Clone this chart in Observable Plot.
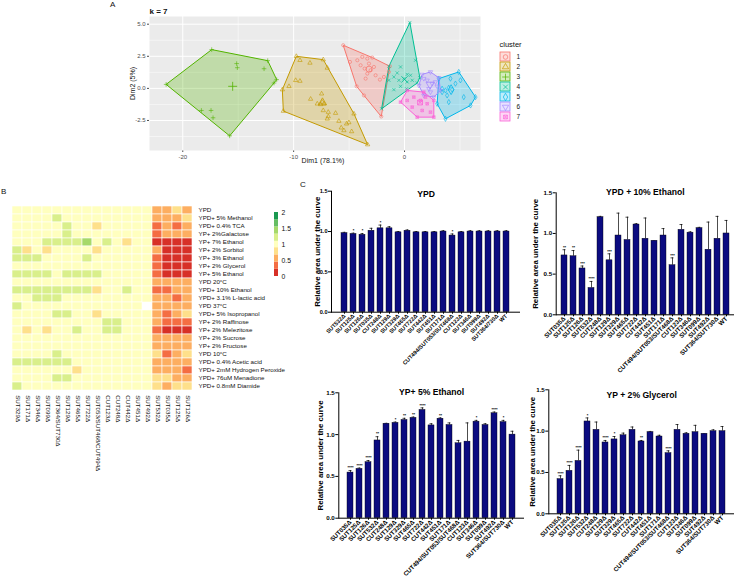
<!DOCTYPE html>
<html><head><meta charset="utf-8">
<script src="https://cdn.jsdelivr.net/npm/d3@7"></script>
<script src="https://cdn.jsdelivr.net/npm/@observablehq/plot@0.6"></script>
<style>
body{margin:0;background:#fff;font-family:"Liberation Sans",Arial,Helvetica,sans-serif;}
#root{position:relative;width:736px;height:581px;overflow:hidden;background:#fff;}
.p{position:absolute;}
.p svg{overflow:visible;}
.lbl{position:absolute;color:#111;line-height:1;}
</style></head><body><div id="root"></div>
<script>
// ---------------- Panel A data ----------------
const clusterIds = ["1","2","3","4","5","6","7"];
const clusterColors = ["#F8766D","#C49A00","#53B400","#00C094","#00B6EB","#A58AFF","#FB61D7"];
const cluster1 = [[-5.53,3.36],[-4.92,2.06],[-4.26,2.19],[-3.81,2.45],[-3.36,2.32],[-2.91,2.4],[-3.96,1.8],[-3.6,1.54],[-3.21,1.93],[-3.06,1.41],[-2.76,1.67],[-3.36,1.15],[-3.51,0.76],[-2.61,1.02],[-2.22,0.68],[-1.86,0.89],[-1.32,1.72],[-1.41,1.28],[-4.32,0.16],[-3.66,-0.55],[-2.1,-2.19]];
const cluster2 = [[-9.76,2.5],[-9.43,2.19],[-8.53,1.98],[-7.33,2.24],[-6.97,1.59],[-9.82,0.63],[-9.43,0.57],[-10.42,0.16],[-11.02,-0.1],[-10.93,-1.77],[-8.47,-0.83],[-7.48,-0.42],[-7.42,-1.07],[-7.87,-1.2],[-7.57,-1.25],[-7.27,-1.2],[-7.33,-1.72],[-6.88,-1.85],[-6.88,-2.19],[-6.97,-2.37],[-6.22,-1.93],[-5.92,-2.55],[-5.23,-2.76],[-5.02,-2.66],[-5.71,-3.07],[-5.47,-3.28],[-4.77,-3.36],[-4.56,-1.98],[-3.33,-4.38]];
const cluster3 = [[-21.5,0.31],[-17.39,3.02],[-12.34,2.16],[-11.53,0.68],[-11.77,0.42],[-15.77,-3.7],[-15.14,1.93],[-15.08,1.61],[-12.67,1.53],[-18.32,-1.72],[-17.45,-1.72],[-17.27,-2.29]];
const cluster4 = [[0.48,5.13],[1.38,0.83],[-2.07,-1.59],[-1.41,1.72],[0.99,2.19],[-0.36,1.67],[-0.96,0.89],[-0.51,0.63],[-0.06,0.76],[0.24,0.5],[0.69,0.63],[-0.96,-0.1],[-0.36,0.16],[0.18,-0.03],[0.54,1.02],[1.14,0.42],[0.24,1.09],[-1.41,0.63],[-0.66,1.2]];
const cluster5 = [[4.89,1.28],[6.4,-0.68],[3.69,-2.37],[2.94,-1.2],[3.09,0.76],[5.95,-1.33],[3.39,-0.03],[3.69,-0.16],[3.99,0.05],[4.29,-0.1],[4.59,0.37],[4.14,0.76],[5.04,0.63],[5.34,-0.68],[3.99,-1.07],[3.39,-0.29],[3.84,-0.55]];
const cluster6 = [[1.59,1.09],[2.34,1.28],[3.09,0.83],[3.24,-0.16],[2.64,-0.68],[1.74,-0.55],[1.29,0.23],[2.04,0.63],[2.49,0.37],[2.19,-0.03],[2.79,0.5],[1.74,0.76],[2.34,-0.29],[2.94,0.16]];
const cluster7 = [[-0.36,-1.07],[0.24,-0.16],[1.74,-0.29],[2.64,-0.94],[2.64,-2.24],[1.14,-2.24],[0.84,-0.68],[1.44,-0.94],[2.04,-1.2],[0.69,-1.46],[1.59,-1.72],[2.34,-1.85],[0.24,-0.94],[1.89,-0.68]];
const centroids = [[-3.2,1.5],[-7.4,-1.1],[-15.5,0.16],[0,0.7],[4.2,-0.1],[2.3,0.3],[1.4,-1.1]];
const xMajor = [-20,-10,0], xMinor = [-15,-5,5];
const yMajor = [-2.5,0,2.5,5], yMinor = [-3.75,-1.25,1.25,3.75];

// ---------------- Panel B data ----------------
const conditions = ["YPD","YPD+ 5% Methanol","YPD+ 0.4% TCA","YP+ 2%Galactose","YP+ 7% Ethanol","YP+ 2% Sorbitol","YP+ 3% Ethanol","YP+ 2% Glycerol","YP+ 5% Ethanol","YPD 20°C","YPD+ 10% Ethanol","YPD+ 3.1% L-lactic acid","YPD 37°C","YPD+ 5% Isopropanol","YP+ 2% Raffinose","YP+ 2% Melezitose","YP+ 2% Sucrose","YP+ 2% Fructose","YPD 10°C","YPD+ 0.4% Acetic acid","YPD+ 2mM Hydrogen Peroxide","YPD+ 76uM Menadione","YPD+ 0.8mM Diamide"];
const heatStrains = ["SUT329Δ","SUT171Δ","SUT346Δ","SUT099Δ","SUT364/SUT730Δ","SUT129Δ","SUT465Δ","SUT722Δ","SUT053/SUT468/CUT494Δ","CUT123Δ","CUT248Δ","CUT442Δ","SUT451Δ","SUT492Δ","SUT532Δ","SUT035Δ","SUT125Δ","SUT126Δ"];
const heatValues = [
 [1,1,1,1,1,1,1,1,1,1,1,1,1,1,0.6,0.6,0.8,0.6],
 [1,1,1,1,1.25,1,1,1,1,1,1,1,1,1,0.6,0.6,0.6,0.8],
 [1,1,1,1,1,1.25,1,1,0.8,1,1,1,1,1,0.35,0.6,0.35,0.6],
 [1,1,1,1,1,1.25,1,1,1,1,1,1,1,1,0.35,0.6,0.6,0.6],
 [1,1,1,1.25,1.25,1.25,1.25,1.4,1,1.25,1,0.8,1,1,0.1,0.1,0.1,0.1],
 [1.25,0.8,1,0.8,1,1,1,1,0.8,1,1,1,1,1,0.6,0.1,0.1,0.1],
 [1.25,1.25,1.25,1,1,1,1,1.25,1,1,1,1,1,1,0.35,0.1,0.1,0.1],
 [1,1,1,1,1,1,1,1,1,1,1,1,1,1,0.35,0.1,0.1,0.1],
 [1.25,1.25,1.25,1.25,1,1.25,1.25,1.25,1.25,1,1,1,1,1,0.35,0.1,0.1,0.1],
 [1,1,1,1,1,1,1,1,1,1,1,1,1,1,0.6,0.6,0.6,0.6],
 [1.25,1.25,1.25,1.25,1.25,1.25,1.25,1.25,0.8,1,1,1.25,1,1,0.35,0.35,0.6,0.6],
 [1,1,1.25,1.25,1.25,1,1,1,1,1,1,1,1,1,0.6,0.6,0.35,0.6],
 [1.25,1,1,1,1,1,1,1,1,1,1,1,1,null,0.6,0.6,0.6,0.6],
 [1,1,1,1,1.25,1.25,1,1,0.8,1,1,1,1,1,0.6,0.35,0.6,0.8],
 [1,1,1,1,1,1,1,1,1,1.25,1.25,1,1,1,0.6,0.35,0.35,0.35],
 [1,0.8,1,0.8,1,1,1.25,1,1,1.25,1.25,1,1,1,0.35,0.1,0.1,0.1],
 [1,1,1,1,1,1,1,1,1,1,1,1,1,1,0.6,0.6,0.6,0.6],
 [1,1,1,1,1,1,1,1,1,1,1,1,1,1,0.6,0.6,0.6,0.6],
 [1,1,1,1,1.25,1,1,1,1,1,1,1,1,1,0.8,0.35,0.6,0.8],
 [1.25,1.25,1.25,1.25,1.25,1.25,1,1,1,1,1,1,1,1,0.6,0.6,0.6,0.6],
 [1,1,1,1,1,1,0.8,1,1,1,1,1,1,1,0.6,0.6,0.6,0.35],
 [1,1,1,1,1.25,1.25,1,1,1,1,1,1,1,1,0.8,0.8,0.6,0.6],
 [1.25,1,1,1,1,1,1,1,1,1,1,1,1,1,0.8,0.6,0.8,0.8]
];
const heatThresholds = [0.225,0.45,0.675,0.9,1.1,1.325,1.55,1.775];
const heatColors = ["#d73027","#f46d43","#fdae61","#fee08b","#ffffbf","#d9ef8b","#a6d96a","#66bd63","#1a9850"];
const heatLegendEdges = [0,0.225,0.45,0.675,0.9,1.1,1.325,1.55,1.775,2];
const heatLegendTicks = [0,0.5,1,1.5,2];

// ---------------- Panel C data ----------------
const ypdStrains = ["SUT532Δ","SUT125Δ","SUT126Δ","SUT035Δ","CUT248Δ","SUT129Δ","SUT329Δ","SUT465Δ","SUT722Δ","SUT442Δ","SUT451Δ","SUT171Δ","CUT494/SUT053/SUT468Δ","CUT123Δ","SUT346Δ","SUT099Δ","SUT492Δ","SUT364/730Δ","WT"];
const ypdValues = [0.98,0.97,0.96,1.01,1.04,1.04,0.99,1.01,0.99,0.99,0.99,1.0,0.95,0.99,1.0,1.0,1.0,1.0,1.0];
const ypdErrTop = [0.99,0.98,0.975,1.04,1.08,1.06,1.0,1.02,1.0,1.0,1.0,1.01,0.97,1.0,1.01,1.01,1.01,1.01,1.01];
const ypdStars = ["","*","*","","*","","","","","","","","*","","","","","",""];

const stressStrains = ["SUT035Δ","SUT125Δ","SUT126Δ","SUT532Δ","CUT248Δ","SUT129Δ","SUT329Δ","SUT465Δ","SUT722Δ","CUT442Δ","SUT451Δ","SUT171Δ","CUT494/SUT053/SUT468Δ","CUT123Δ","SUT346Δ","SUT099Δ","SUT492Δ","SUT364/SUT730Δ","WT"];
const eth10Values = [0.73,0.72,0.57,0.33,1.20,0.67,0.975,0.92,1.11,0.935,0.91,0.975,0.61,1.045,1.01,1.065,0.80,0.935,1.0];
const eth10ErrTop = [0.80,0.79,0.60,0.41,1.21,0.75,1.25,1.20,1.12,1.19,0.91,1.06,0.70,1.11,1.02,1.075,1.14,1.21,1.16];
const eth10Stars = ["**","**","***","****","","***","","","","","","","***","","","","","",""];

const eth5Values = [0.546,0.59,0.67,0.93,1.13,1.14,1.175,1.20,1.295,1.11,1.19,1.115,0.896,0.916,1.155,1.115,1.255,1.15,1.0];
const eth5ErrTop = [0.57,0.60,0.69,0.975,1.135,1.15,1.195,1.21,1.32,1.13,1.20,1.14,0.93,1.14,1.17,1.13,1.27,1.17,1.04];
const eth5Stars = ["****","****","****","**","","*","**","**","****","","**","","","","*","","****","*",""];

const glyValues = [0.42,0.52,0.64,1.117,1.016,0.863,0.90,0.95,1.016,0.875,0.988,0.935,0.734,1.016,0.968,0.988,0.968,1.0,1.0];
const glyErrTop = [0.46,0.585,0.77,1.16,1.11,0.887,0.935,0.976,1.05,0.887,0.996,0.95,0.762,1.08,0.98,1.07,0.968,1.016,1.056];
const glyStars = ["****","****","****","*","","****","*","","","**","","","****","","","","","",""];
const barTicks = [0,0.5,1,1.5];

// ---------------- helpers ----------------
const FONT = '"Liberation Sans", Arial, Helvetica, sans-serif';
const root = document.getElementById("root");
function place(node, left, top, w) {
  const d = document.createElement("div");
  d.className = "p"; d.style.left = left + "px"; d.style.top = top + "px"; d.style.width = w + "px";
  d.appendChild(node); root.appendChild(d);
}
function label(txt, left, top, size, weight) {
  const d = document.createElement("div");
  d.className = "lbl"; d.textContent = txt;
  d.style.left = left + "px"; d.style.top = top + "px"; d.style.fontSize = size + "px";
  if (weight) d.style.fontWeight = weight;
  root.appendChild(d);
}
const triDown = {draw(ctx, size) { const r = Math.sqrt(size / 1.3); ctx.moveTo(0, r); ctx.lineTo(r * 0.866, -r * 0.5); ctx.lineTo(-r * 0.866, -r * 0.5); ctx.closePath(); }};
const squareX = {draw(ctx, size) { const r = Math.sqrt(size) / 2.2; ctx.moveTo(-r,-r); ctx.lineTo(r,-r); ctx.lineTo(r,r); ctx.lineTo(-r,r); ctx.closePath(); ctx.moveTo(-r,-r); ctx.lineTo(r,r); ctx.moveTo(r,-r); ctx.lineTo(-r,r); }};
const clusterSymbols = ["circle","triangle","plus","times","diamond",triDown,squareX];

// ---------------- Panel A ----------------
const clusters = [cluster1,cluster2,cluster3,cluster4,cluster5,cluster6,cluster7];
const pts = clusters.flatMap((arr, i) => arr.map(([x, y]) => ({x, y, cluster: clusterIds[i]})));
const cents = centroids.map(([x, y], i) => ({x, y, cluster: clusterIds[i]}));

const plotA = Plot.plot({
  width: 390, height: 170, marginLeft: 49, marginRight: 10, marginTop: 16, marginBottom: 20,
  style: {background: "transparent", fontFamily: FONT, fontSize: "6px", color: "#4d4d4d"},
  x: {domain: [-23, 6.85], ticks: xMajor, tickSize: 2, tickPadding: 2, tickFormat: d => String(d), label: null},
  y: {domain: [-4.84, 5.6], ticks: yMajor, tickSize: 2, tickPadding: 2, tickFormat: d => d.toFixed(1), label: null},
  color: {domain: clusterIds, range: clusterColors},
  symbol: {domain: clusterIds, range: clusterSymbols},
  marks: [
    Plot.frame({fill: "#ebebeb", stroke: "none"}),
    Plot.ruleX(xMinor, {stroke: "#fff", strokeWidth: 0.5}),
    Plot.ruleX(xMajor, {stroke: "#fff", strokeWidth: 1}),
    Plot.ruleY(yMinor, {stroke: "#fff", strokeWidth: 0.5}),
    Plot.ruleY(yMajor, {stroke: "#fff", strokeWidth: 1}),
    Plot.hull(pts, {x: "x", y: "y", z: "cluster", fill: "cluster", fillOpacity: 0.28, stroke: "cluster", strokeWidth: 1}),
    Plot.dot(pts, {x: "x", y: "y", symbol: "cluster", stroke: "cluster", fill: "none", r: 1.6, strokeWidth: 0.6}),
    Plot.dot(cents, {x: "x", y: "y", symbol: "cluster", stroke: "cluster", fill: "none", r: 3, strokeWidth: 0.8}),
    Plot.text(["Dim1 (78.1%)"], {frameAnchor: "bottom", dx: 8, dy: 12, fontSize: 7, fill: "#111"}),
    Plot.text(["Dim2 (5%)"], {frameAnchor: "left", textAnchor: "middle", rotate: -90, dx: -17, fontSize: 7, fill: "#111"}),
    Plot.text(["k = 7"], {frameAnchor: "top-left", textAnchor: "start", dy: -8, fontSize: 8, fontWeight: "bold", fill: "#111"})
  ]
});
place(plotA, 100, 0, 390);

const legendA = Plot.plot({
  width: 40, height: 92, margin: 0,
  style: {background: "transparent", fontFamily: FONT, fontSize: "6.5px", color: "#111"},
  x: {domain: [0, 40], range: [0, 40], axis: null},
  y: {type: "band", domain: clusterIds, range: [14, 87], padding: 0.08, axis: null},
  color: {domain: clusterIds, range: clusterColors},
  symbol: {domain: clusterIds, range: clusterSymbols},
  marks: [
    Plot.barX(clusterIds, {x1: 5, x2: 15, y: d => d, fill: d => d, fillOpacity: 0.25, stroke: d => d, strokeWidth: 0.8}),
    Plot.dot(clusterIds, {x: 10, y: d => d, symbol: d => d, stroke: d => d, fill: "none", r: 2.3, strokeWidth: 0.7}),
    Plot.text(clusterIds, {x: 21, y: d => d, text: d => d, textAnchor: "start"}),
    Plot.text(["cluster"], {x: 4, y: () => "1", dy: -12, text: d => d, textAnchor: "start", fontSize: 7.5})
  ]
});
place(legendA, 495, 36, 40);

// ---------------- Panel B ----------------
const heatCells = conditions.flatMap((c, i) => heatStrains.map((s, j) => ({cond: c, strain: s, v: heatValues[i][j]})));
const plotB = Plot.plot({
  width: 330, height: 263, marginLeft: 7, marginRight: 134, marginTop: 12.7, marginBottom: 60.3,
  style: {background: "transparent", fontFamily: FONT, fontSize: "6.2px", color: "#111"},
  x: {domain: heatStrains, padding: 0, tickRotate: 90, tickSize: 0, tickPadding: 2, label: null},
  y: {domain: conditions, padding: 0, axis: "right", tickSize: 0, tickPadding: 2, label: null},
  color: {type: "threshold", domain: heatThresholds, range: heatColors},
  marks: [
    Plot.cell(heatCells, {x: "strain", y: "cond", fill: "v", stroke: "#fff", strokeWidth: 0.6})
  ]
});
place(plotB, 0, 190, 330);

const heatLegendBins = heatLegendEdges.slice(0, -1).map((e, i) => ({y1: e, y2: heatLegendEdges[i + 1], v: (e + heatLegendEdges[i + 1]) / 2}));
const legendB = Plot.plot({
  width: 40, height: 80, marginLeft: 6, marginRight: 30, marginTop: 7, marginBottom: 9,
  style: {background: "transparent", fontFamily: FONT, fontSize: "6.8px", color: "#111"},
  x: {domain: [0, 1], axis: null},
  y: {domain: [0, 2], ticks: heatLegendTicks, tickFormat: d => String(d), axis: "right", tickSize: 0, tickPadding: 3, label: null},
  color: {type: "threshold", domain: heatThresholds, range: heatColors},
  marks: [
    Plot.rectY(heatLegendBins, {x1: 0, x2: 1, y1: "y1", y2: "y2", fill: "v"})
  ]
});
place(legendB, 268, 205, 40);

// ---------------- Panel C ----------------
function barChart(o) {
  const rows = o.names.map((n, i) => ({n, v: o.vals[i], e: o.errs[i], s: o.stars[i]}));
  return Plot.plot({
    width: o.width, height: o.height, marginLeft: o.ml, marginRight: o.mr, marginTop: o.mt, marginBottom: o.mb,
    style: {background: "transparent", fontFamily: FONT, fontSize: o.tickFont + "px", fontWeight: "bold", color: "#000"},
    x: {domain: o.names, padding: 0.3, tickRotate: -45, tickSize: 2, tickPadding: 1, label: null},
    y: {domain: [0, 1.5], ticks: barTicks, tickFormat: d => d.toFixed(1), tickSize: 3, tickPadding: 1, line: true, label: null},
    marks: [
      Plot.ruleX(rows, {x: "n", y1: "v", y2: "e", strokeWidth: 0.7, stroke: "#000"}),
      Plot.tickY(rows, {x: "n", y: "e", insetLeft: 1.5, insetRight: 1.5, strokeWidth: 0.7, stroke: "#000"}),
      Plot.barY(rows, {x: "n", y: "v", fill: "#0b0b80", stroke: "#000", strokeWidth: 0.4}),
      Plot.text(rows, {x: "n", y: "e", text: "s", dy: -2.5, fontSize: 4, fill: "#000"}),
      Plot.ruleY([0], {strokeWidth: 1, stroke: "#000"}),
      Plot.text([o.title], {frameAnchor: "top", dy: o.titleDy, fontSize: 8.6, fill: "#000"}),
      Plot.text(["Relative area under the curve"], {frameAnchor: "left", textAnchor: "middle", rotate: -90, dx: o.ylabDx, fontSize: 7.9, fill: "#000"})
    ]
  });
}
place(barChart({width: 240, height: 190, ml: 41, mr: 10, mt: 20.7, mb: 48.3, title: "YPD", titleDy: 0, names: ypdStrains, vals: ypdValues, errs: ypdErrTop, stars: ypdStars, tickFont: 5.6, ylabDx: -14.5}), 290, 170, 240);
place(barChart({width: 246, height: 190, ml: 65.7, mr: 2, mt: 22.3, mb: 45.7, title: "YPD + 10% Ethanol", titleDy: -4, names: stressStrains, vals: eth10Values, errs: eth10ErrTop, stars: eth10Stars, tickFont: 6.2, ylabDx: -20.7}), 490, 170, 246);
place(barChart({width: 240, height: 221, ml: 48.3, mr: 6, mt: 32.3, mb: 63.3, title: "YP+ 5% Ethanol", titleDy: -4, names: stressStrains, vals: eth5Values, errs: eth5ErrTop, stars: eth5Stars, tickFont: 6.2, ylabDx: -18}), 290, 360, 240);
place(barChart({width: 246, height: 221, ml: 58.3, mr: 2, mt: 29.3, mb: 67.7, title: "YP + 2% Glycerol", titleDy: 2, names: stressStrains, vals: glyValues, errs: glyErrTop, stars: glyStars, tickFont: 6.2, ylabDx: -16.6}), 490, 360, 246);

// panel letters
label("A", 110, 1, 8);
label("B", 1, 188, 8);
label("C", 300, 181, 8);
</script></body></html>
